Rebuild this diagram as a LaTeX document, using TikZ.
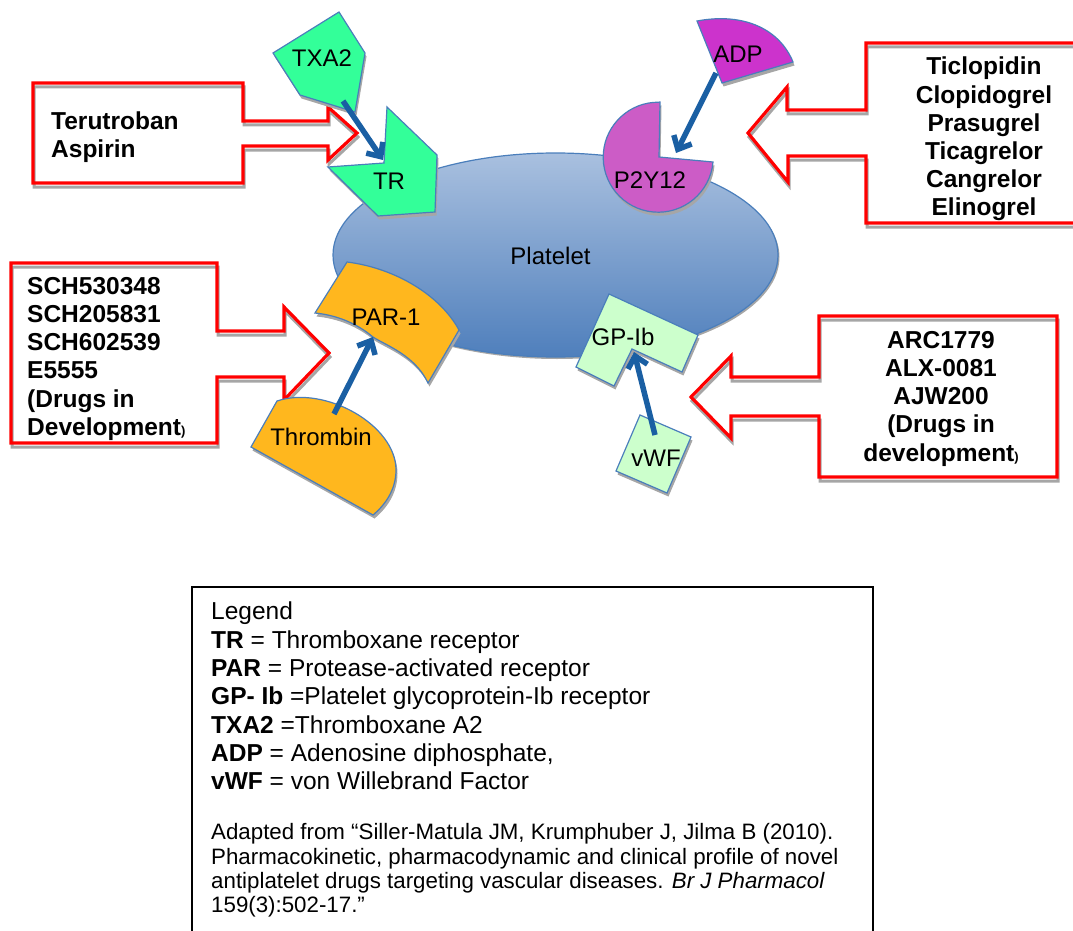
\documentclass[tikz,border=0pt]{standalone}
\usepackage{fontspec}
\setmainfont{Liberation Sans}
\usetikzlibrary{shapes.geometric,arrows.meta}
\definecolor{shgray}{HTML}{A6A6A6}
\definecolor{edgeblue}{HTML}{4A7EBB}
\definecolor{arrowblue}{HTML}{1A5FA3}
\definecolor{tealgreen}{HTML}{33FF99}
\definecolor{paleorchid}{HTML}{CC5CC6}
\definecolor{magentap}{HTML}{CC33CC}
\definecolor{amberc}{HTML}{FFB71E}
\definecolor{palegreen}{HTML}{CCFFCC}
\definecolor{platetop}{HTML}{A9C0DF}
\definecolor{platebot}{HTML}{4F7FBC}
\newcommand{\shapeblob}[2]{%
  \fill[shgray,shift={(1.5,3.5)}] #2;
  \draw[edgeblue,line width=1.2pt,fill=#1] #2;}
\newcommand{\calloutline}[1]{%
  \draw[shgray,line width=3pt,shift={(1,4)}] #1;
  \draw[red,line width=3.2pt,miter limit=10] #1;}
\tikzset{
  shapetext/.style={font=\fontsize{24}{28}\selectfont,inner sep=0pt},
  drugtext/.style={font=\fontsize{24.5}{28.2}\selectfont\bfseries,inner sep=0pt},
  bindarrow/.style={draw=arrowblue,line width=5.5pt,-{Straight Barb[length=11pt,width=20pt,line width=5.5pt]}},
}
\begin{document}
\begin{tikzpicture}[x=1pt,y=1pt,yscale=-1]
\useasboundingbox (0,0) rectangle (1073,931);
% platelet
\fill[shgray] (557,257) ellipse [x radius=222.5,y radius=102];
\node[ellipse,draw=edgeblue,line width=1.2pt,minimum width=445pt,minimum height=204pt,inner sep=0pt,
  top color=platetop,bottom color=platebot] (platelet) at (555.5,255) {};
% callouts
\calloutline{(33,83) -- (243,83) -- (243,121) -- (328,121) -- (328,107) -- (357,133) -- (328,160) -- (328,146) -- (243,146) -- (243,183) -- (33,183) -- cycle}
\calloutline{(1090,43) -- (866,43) -- (866,110) -- (787,110) -- (787,87) -- (748,133) -- (788,182) -- (788,156) -- (866,156) -- (866,223) -- (1090,223)}
\calloutline{(11,263) -- (217,263) -- (217,331) -- (284,331) -- (284,307) -- (329,353) -- (284,400) -- (284,377) -- (217,377) -- (217,443) -- (11,443) -- cycle}
\calloutline{(819,316) -- (1057,316) -- (1057,477) -- (819,477) -- (819,416) -- (731,416) -- (731,438) -- (691,397) -- (731,356) -- (731,377) -- (819,377) -- cycle}
% receptors and ligands
\shapeblob{tealgreen}{(339,12) -- (365,53) -- (355,112) -- (300,95) -- (273,53) -- cycle}
\shapeblob{tealgreen}{(387,107) -- (437,155) -- (435,212) -- (378,216) -- (328,167) -- (384,163) -- cycle}
\shapeblob{magentap}{(697,21) .. controls (745,12) and (780,30) .. (793,62) -- (722,83) -- cycle}
\shapeblob{paleorchid}{(660,102) -- (659,157) -- (713,162) arc[start angle=5,end angle=270,radius=55] -- cycle}
\shapeblob{amberc}{(347,262) .. controls (395,268) and (440,295) .. (459,330) -- (428,383) .. controls (415,355) and (385,345) .. (373,337) .. controls (355,322) and (335,315) .. (315,313) -- cycle}
\shapeblob{amberc}{(277,401) .. controls (325,385) and (396,425) .. (396,470) .. controls (396,490) and (385,505) .. (373,515) -- (251,447) -- cycle}
\shapeblob{palegreen}{(609,294) -- (698,335) -- (682,372) -- (632,349) -- (614,386) -- (576,367) -- cycle}
\shapeblob{palegreen}{(640,415) -- (691,437) -- (667,493) -- (616,471) -- cycle}
% anchors for connectors
\coordinate (txatail) at (343,101);
\coordinate (trnotch) at (383,160);
\coordinate (adptail) at (716,73);
\coordinate (p2notch) at (676,153);
\coordinate (thrtail) at (334,414);
\coordinate (parface) at (373,337);
\coordinate (vwftail) at (655,435);
\coordinate (gpnotch) at (634,352);
\draw[bindarrow] (txatail) -- (trnotch);
\draw[bindarrow] (adptail) -- (p2notch);
\draw[bindarrow] (thrtail) -- (parface);
\draw[bindarrow] (vwftail) -- (gpnotch);
% shape labels
\node[shapetext] (plateletlabel) at (550.5,256) {Platelet};
\node[shapetext] (txalabel) at (322,58) {TXA2};
\node[shapetext] (trlabel) at (389,181) {TR};
\node[shapetext] (adplabel) at (738,54) {ADP};
\node[shapetext] (p2label) at (650,180) {P2Y12};
\node[shapetext] (parlabel) at (386,317) {PAR-1};
\node[shapetext] (thrlabel) at (321,437) {Thrombin};
\node[shapetext] (gplabel) at (623,337) {GP-Ib};
\node[shapetext] (vwflabel) at (656,458) {vWF};
% drug lists
\node[drugtext,anchor=north west,align=left] (drugsa) at (51,111.5) {Terutroban\\Aspirin};
\node[drugtext,anchor=north,align=center] (drugsb) at (984,57) {Ticlopidin\\Clopidogrel\\Prasugrel\\Ticagrelor\\Cangrelor\\Elinogrel};
\node[drugtext,anchor=north west,align=left] (drugsc) at (27,277) {SCH530348\\SCH205831\\SCH602539\\E5555\\(Drugs in\\Development{\fontsize{13}{14}\selectfont)}};
\node[drugtext,anchor=north,align=center] (drugsd) at (941,331) {ARC1779\\ALX-0081\\AJW200\\(Drugs in\\development{\fontsize{13}{14}\selectfont)}};
% legend
\draw[black,line width=1.3pt] (192,940) -- (192,587) -- (873,587) -- (873,940);
\node[anchor=north west,inner sep=0pt,align=left,font=\fontsize{24.5}{28.3}\selectfont] (legendkeys) at (211,602) {Legend\\
\textbf{TR} = Thromboxane receptor\\
\textbf{PAR} = Protease-activated receptor\\
\textbf{GP- Ib} =Platelet glycoprotein-Ib receptor\\
\textbf{TXA2} =Thromboxane A2\\
\textbf{ADP} = Adenosine diphosphate,\\
\textbf{vWF} = von Willebrand Factor};
\node[anchor=north west,inner sep=0pt,align=left,font=\fontsize{22.3}{24.3}\selectfont] (legendsource) at (211,823.5) {Adapted from “Siller-Matula JM, Krumphuber J, Jilma B (2010).\\
Pharmacokinetic, pharmacodynamic and clinical profile of novel\\
antiplatelet drugs targeting vascular diseases. \textit{Br J Pharmacol}\\
159(3):502-17.”};
\end{tikzpicture}
\end{document}
